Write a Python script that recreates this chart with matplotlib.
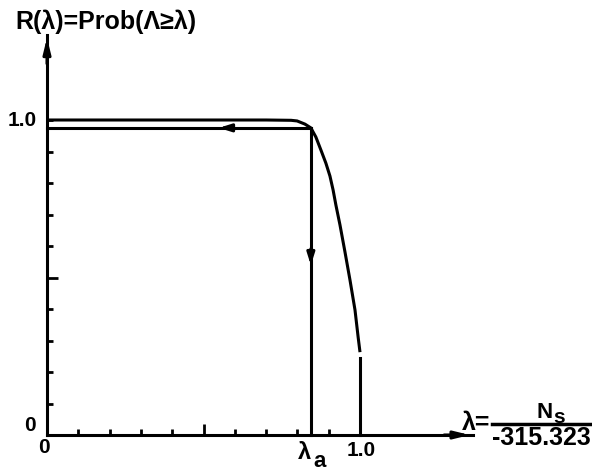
import numpy as np
import matplotlib
matplotlib.use('Agg')
import matplotlib.pyplot as plt

plt.rcParams['font.family'] = ['Liberation Sans Narrow', 'Liberation Sans', 'DejaVu Sans']
plt.rcParams['font.weight'] = 'bold'

# Data
lam_curve = [0.0, 0.70, 0.78, 0.799, 0.824, 0.843, 0.859, 0.875, 0.891, 0.904, 0.914,
             0.923, 0.936, 0.952, 0.968, 0.984, 0.994, 1.0]
R_curve = [1.0, 1.0, 0.999, 0.997, 0.987, 0.975, 0.946, 0.905, 0.863, 0.822, 0.778,
           0.730, 0.667, 0.581, 0.492, 0.397, 0.311, 0.263]

lam_a = 0.843
R_a = 0.975
lam_end = 1.0
R_break = 0.245

minor_ticks = [0.1, 0.2, 0.3, 0.4, 0.6, 0.7, 0.8, 0.9, 1.0]
major_ticks = [0.5]

x_max = 1.36
y_max = 1.27

lw = 2.2
fig = plt.figure(figsize=(5.92, 4.73), dpi=100)
ax = fig.add_axes([47 / 592, 38 / 473, x_max * 313 / 592, y_max * 315 / 473])
ax.set_xlim(0, x_max)
ax.set_ylim(0, y_max)

for s in ['top', 'right']:
    ax.spines[s].set_visible(False)
for s in ['left', 'bottom']:
    ax.spines[s].set_linewidth(lw)

ax.set_xticks(major_ticks)
ax.set_xticks(minor_ticks, minor=True)
ax.set_yticks(major_ticks)
ax.set_yticks(minor_ticks, minor=True)
ax.tick_params(which='major', direction='in', length=8, width=2, labelbottom=False, labelleft=False)
ax.tick_params(which='minor', direction='in', length=4, width=2)

# axis arrowheads
head = dict(arrowstyle='-|>,head_length=0.9,head_width=0.22', color='black', lw=lw)
ax.annotate('', xy=(x_max, 0), xytext=(x_max - 0.1, 0), arrowprops=head, annotation_clip=False)
ax.annotate('', xy=(0, y_max), xytext=(0, y_max - 0.1), arrowprops=head, annotation_clip=False)

# reliability curve
ax.plot(lam_curve, R_curve, color='black', lw=lw, solid_capstyle='butt',
        solid_joinstyle='round', clip_on=False)
ax.plot([0, lam_a], [R_a, R_a], color='black', lw=lw, clip_on=False)
ax.plot([lam_a, lam_a], [R_a, 0], color='black', lw=lw, clip_on=False)
ax.plot([lam_end, lam_end], [R_break, 0], color='black', lw=lw, clip_on=False)

# arrowheads along the path
mid = dict(arrowstyle='-|>,head_length=0.7,head_width=0.22', color='black', lw=lw)
ax.annotate('', xy=(0.54, R_a), xytext=(0.60, R_a), arrowprops=mid)
ax.annotate('', xy=(lam_a, 0.53), xytext=(lam_a, 0.60), arrowprops=mid)

# labels
fs = 15
ax.text(-0.08, 1.0, '1.0', fontsize=fs, ha='center', va='center')
ax.text(-0.055, 0.03, '0', fontsize=fs, ha='center', va='center')
ax.text(-0.01, -0.04, '0', fontsize=fs, ha='center', va='center')
ax.text(1.005, -0.05, '1.0', fontsize=fs, ha='center', va='center')
ax.text(lam_a - 0.02, -0.055, 'λ', fontsize=fs + 2, ha='center', va='center')
ax.text(lam_a + 0.027, -0.085, 'a', fontsize=fs + 1, ha='center', va='center')

fig.text(15 / 592, 1 - 22 / 473, 'R(λ)=Prob(Λ≥λ)', fontsize=18, ha='left', va='center')

# lambda definition next to the axis arrow
fig.text(476 / 592, 1 - 423 / 473, 'λ=', fontsize=18, ha='center', va='center')
fig.text(553 / 592, 1 - 412 / 473, 'N', fontsize=16, ha='right', va='center')
fig.text(553 / 592, 1 - 417 / 473, 's', fontsize=15, ha='left', va='center')
fig.text(541 / 592, 1 - 438 / 473, '-315.323', fontsize=18, ha='center', va='center')
fig.add_artist(plt.Line2D([492 / 592, 590 / 592], [1 - 424 / 473, 1 - 424 / 473], color='black', lw=2.5))

fig.savefig('out.png', dpi=100)
